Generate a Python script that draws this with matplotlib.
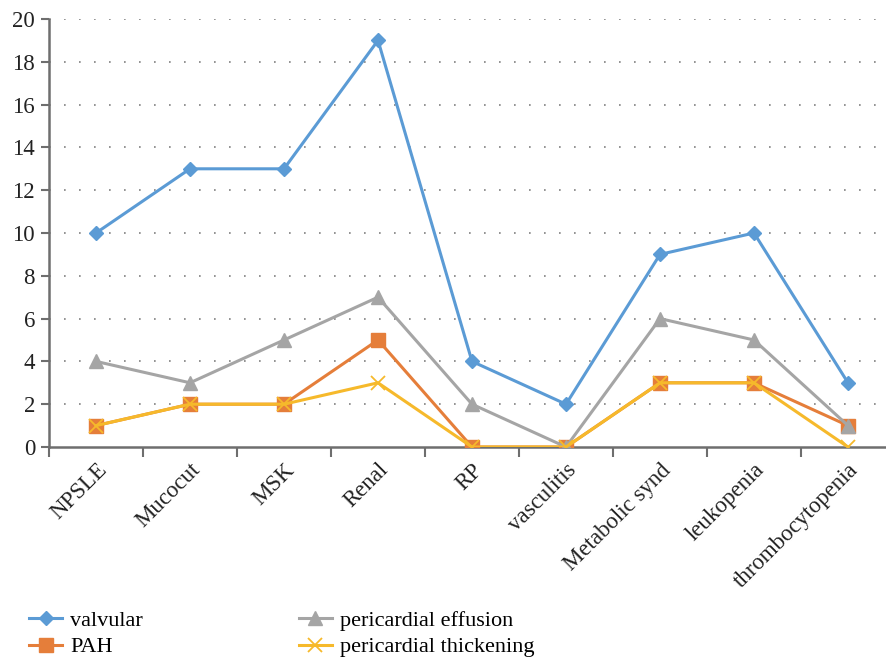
import matplotlib
matplotlib.use('Agg')
import matplotlib.pyplot as plt
import numpy as np

categories = ['NPSLE', 'Mucocut', 'MSK', 'Renal', 'RP', 'vasculitis',
              'Metabolic synd', 'leukopenia', 'thrombocytopenia']
valvular = [10, 13, 13, 19, 4, 2, 9, 10, 3]
pah = [1, 2, 2, 5, 0, 0, 3, 3, 1]
effusion = [4, 3, 5, 7, 2, 0, 6, 5, 1]
thickening = [1, 2, 2, 3, 0, 0, 3, 3, 0]

plt.rcParams['font.family'] = ['Liberation Serif', 'DejaVu Serif']

W, H = 887, 659
fig = plt.figure(figsize=(W / 100, H / 100), dpi=100)
# axis runs a bit past the right edge of the picture
ax = fig.add_axes([49 / W, (H - 447) / H, (895 - 49) / W, (447 - 19) / H])

x = np.arange(len(categories))
ax.plot(x, valvular, color='#5B9BD5', lw=2.2, marker='D', ms=7.5, label='valvular', zorder=3)
ax.plot(x, pah, color='#E57E3A', lw=2.2, marker='s', ms=10, label='PAH', zorder=3)
ax.plot(x, effusion, color='#A5A5A5', lw=2.2, marker='^', ms=10, label='pericardial effusion', zorder=3)
ax.plot(x, thickening, color='#F6B92B', lw=2.2, marker='x', ms=10, mew=1.3,
        label='pericardial thickening', zorder=3)

ax.set_xlim(-0.5, len(categories) - 0.5)
ax.set_ylim(0, 20)
ax.set_yticks(np.arange(0, 21, 2))
ax.set_xticks(x)
ax.set_xticklabels(categories, rotation=45, ha='right', rotation_mode='anchor')
ax.set_xticks(np.arange(-0.5, len(categories), 1), minor=True)
ax.tick_params(axis='x', which='major', length=0, pad=9, labelsize=16.5, colors='#222222')
ax.tick_params(axis='x', which='minor', length=7, width=1.5, color='#6e6e6e')
ax.tick_params(axis='y', length=6, width=1.5, color='#6e6e6e', labelsize=16.5, pad=4,
               labelcolor='#222222')

for yv in np.arange(2, 21, 2):
    ax.axhline(yv, color='#808080', lw=1.2, ls=(0, (1, 8)), zorder=1)

for s in ['top', 'right']:
    ax.spines[s].set_visible(False)
ax.spines['left'].set_color('#6e6e6e')
ax.spines['bottom'].set_color('#6e6e6e')
ax.spines['left'].set_linewidth(1.8)
ax.spines['bottom'].set_linewidth(1.8)

fig.legend(loc='upper left', bbox_to_anchor=(29 / W, 1 - 610 / H), ncol=2, frameon=False,
           fontsize=16, handlelength=1.5, handletextpad=0.36, columnspacing=7.0,
           labelspacing=0.28, borderpad=0, borderaxespad=0)

fig.savefig('out.png', dpi=100)
